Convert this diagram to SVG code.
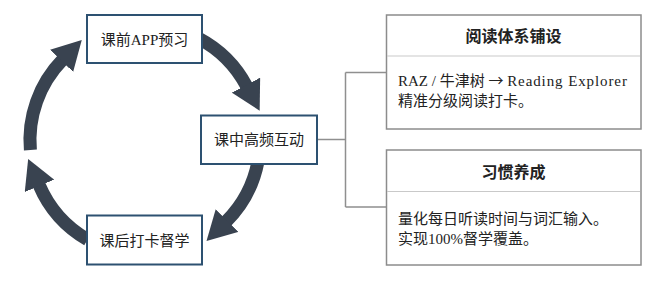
<svg xmlns="http://www.w3.org/2000/svg" width="650" height="290" viewBox="0 0 650 290">
<defs>
<style>
.bg{fill:#ffffff}
.flow{fill:none;stroke:#394350;stroke-width:13;stroke-linecap:butt}
.node{fill:#ffffff;stroke:#2d5171;stroke-width:2}
.card{fill:#ffffff;stroke:#8c8c8c;stroke-width:1.5}
.div{stroke:#c9c9c9;stroke-width:1}
.link{fill:none;stroke:#8f8f8f;stroke-width:1.5}
.lbl{font-family:"Liberation Serif","Noto Sans CJK SC",serif;font-size:15px;fill:#222222;text-anchor:middle}
.hdr{font-family:"Liberation Serif","Noto Sans CJK SC",serif;font-size:16px;font-weight:bold;fill:#222222;text-anchor:middle}
.body{font-family:"Liberation Serif","Noto Sans CJK SC",serif;font-size:15px;fill:#222222}
.arr{font-family:"Noto Sans CJK SC",sans-serif}
.wide{letter-spacing:0.9px}
</style>
<marker id="ah" markerUnits="userSpaceOnUse" markerWidth="30" markerHeight="32" viewBox="0 0 30 32" refX="1" refY="16" orient="auto">
<path d="M0,0 L29,16 L0,32 z" fill="#394350"/>
</marker>
</defs>
<rect class="bg" x="0" y="0" width="650" height="290"/>
<g id="connectors">
<path class="flow" marker-end="url(#ah)" d="M199,38.5 A115,115 0 0 1 246.5,86"/>
<path class="flow" marker-end="url(#ah)" d="M257.9,161.9 A115,115 0 0 1 226.3,221.3"/>
<path class="flow" marker-end="url(#ah)" d="M87.5,239.6 A115,115 0 0 1 39.1,184.9"/>
<path class="flow" marker-end="url(#ah)" d="M30.4,150 A115,115 0 0 1 62.3,60.1"/>
<path class="link" d="M317,139.5 H345.5 M345.5,72.5 V207 M345.5,72.5 H387 M345.5,207 H387"/>
</g>
<g id="node-pre">
<rect class="node" x="87" y="15" width="115" height="48"/>
<text class="lbl" x="144.5" y="44.5">课前APP预习</text>
</g>
<g id="node-in">
<rect class="node" x="201" y="115.5" width="116" height="48.5"/>
<text class="lbl" x="259" y="145">课中高频互动</text>
</g>
<g id="node-post">
<rect class="node" x="87" y="215.5" width="115" height="49"/>
<text class="lbl" x="144.5" y="245.5">课后打卡督学</text>
</g>
<g id="card-reading">
<rect class="card" x="386.5" y="15" width="254.5" height="114"/>
<line class="div" x1="387" y1="56" x2="640" y2="56"/>
<text class="hdr" x="513.5" y="41.5">阅读体系铺设</text>
<text class="body" x="398" y="86">RAZ / 牛津树 <tspan class="arr">→</tspan> <tspan class="wide">Reading Explorer</tspan></text>
<text class="body" x="398" y="105.5">精准分级阅读打卡。</text>
</g>
<g id="card-habit">
<rect class="card" x="386.5" y="150" width="254.5" height="115"/>
<line class="div" x1="387" y1="191.5" x2="640" y2="191.5"/>
<text class="hdr" x="513.5" y="177.5">习惯养成</text>
<text class="body" x="398" y="223.5">量化每日听读时间与词汇输入。</text>
<text class="body" x="398" y="243.5">实现100%督学覆盖。</text>
</g>
</svg>
